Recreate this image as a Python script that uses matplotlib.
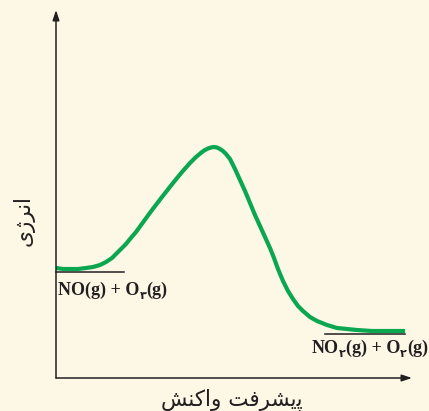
import matplotlib
matplotlib.use("Agg")
from matplotlib import pyplot as plt
from matplotlib import transforms

# Curve (x = reaction progress, y = energy, pixel scale)
progress = [0, 7, 14, 22, 30, 37, 44, 50, 56, 61, 66, 70, 74, 80, 88, 96, 106, 117,
            126, 134, 140, 146, 149, 152, 155, 158, 161, 164, 167, 170, 174, 179, 184,
            189, 194, 199, 204, 209, 214, 218, 222, 227, 232, 237, 242, 247, 254, 261,
            271, 281, 291, 301, 316, 334, 349]
energy = [110, 109, 109, 109, 110, 111, 113, 116, 120, 125, 130, 134, 139, 146, 157,
          168, 181, 195, 206, 215, 221, 226, 228, 229.5, 230.5, 231, 230.5, 229, 227,
          224, 219, 209, 198, 187, 175, 163, 152, 141, 130, 120, 109, 97, 87, 79, 72,
          67, 61, 57, 53, 50, 49, 48, 47, 47, 47]

reactant_level = 106
product_level = 44
reactant_span = [0, 68]
product_span = [269, 349]

reactant_label = [("NO(g) + O", False), ("\u06f3", True), ("(g)", False)]
product_label = [("NO", False), ("\u06f2", True), ("(g) + O", False), ("\u06f2", True), ("(g)", False)]

# Persian text in visual order with presentation forms
x_label = "\uFEB6\uFEE8\uFB90\uFE8D\uFEED \uFE96\uFED3\uFEAE\uFEB8\uFBFE\uFB58"
y_label = "\uFBFC\uFB8A\uFEAE\uFEE7\uFE8D"

bg = "#fdf8e6"
green = "#0aa650"
ink = "#231f20"

fig = plt.figure(figsize=(4.29, 4.11), dpi=100, facecolor=bg)
ax = fig.add_axes([56 / 429, 33 / 411, 356 / 429, 368 / 411])
ax.set_facecolor(bg)
ax.patch.set_alpha(0)
ax.set_xlim(0, 356)
ax.set_ylim(0, 368)
for s in ax.spines.values():
    s.set_visible(False)
ax.set_xticks([])
ax.set_yticks([])

# ejes con flechas
ax.annotate("", xy=(1, 0), xytext=(0, 0), xycoords="axes fraction",
            arrowprops=dict(arrowstyle="-|>,head_length=0.6,head_width=0.2", color=ink, lw=1.1,
                            shrinkA=0, shrinkB=0))
ax.annotate("", xy=(0, 1), xytext=(0, 0), xycoords="axes fraction",
            arrowprops=dict(arrowstyle="-|>,head_length=0.6,head_width=0.2", color=ink, lw=1.1,
                            shrinkA=0, shrinkB=0))

ax.plot(reactant_span, [reactant_level, reactant_level], color=ink, lw=1.1, clip_on=False)
ax.plot(product_span, [product_level, product_level], color=ink, lw=1.1, clip_on=False)
ax.plot(progress, energy, color=green, lw=3, solid_capstyle="butt",
        solid_joinstyle="round", clip_on=False)


def chem(x, y, parts, ha="left", size=13):
    renderer = fig.canvas.get_renderer()
    texts = []
    widths = []
    for txt, sub in parts:
        t = ax.text(x, y, txt, fontsize=size * 0.62 if sub else size, fontweight="bold",
                    family=["Liberation Serif", "DejaVu Sans"], color=ink, va="baseline",
                    clip_on=False)
        texts.append((t, sub))
        widths.append(t.get_window_extent(renderer).width)
    total = sum(widths)
    dx = -total if ha == "right" else 0
    for (t, sub), w in zip(texts, widths):
        t.set_transform(transforms.offset_copy(ax.transData, fig=fig, x=dx,
                                               y=-4 if sub else 0, units="dots"))
        dx += w


chem(2, 83, reactant_label)
chem(372, 25, product_label, ha="right")

fig.text(232 / 429, 1 - 405 / 411, x_label, fontsize=15.5, family="DejaVu Sans",
         color=ink, ha="center", va="baseline")
fig.text(24 / 429, 1 - 220 / 411, y_label, fontsize=15.5, family="DejaVu Sans",
         color=ink, ha="center", va="center", rotation=90)

fig.savefig("out.png", dpi=100, facecolor=bg)
